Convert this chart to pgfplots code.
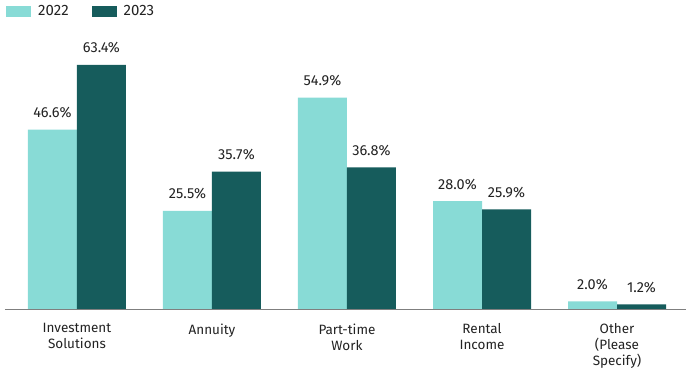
\documentclass[border=0pt]{standalone}
\usepackage{pgfplots}
\pgfplotsset{compat=1.18}
\usepackage{fontspec}
\setmainfont{Fira Sans}
\definecolor{light}{HTML}{88DBD6}
\definecolor{dark}{HTML}{165C5C}
\definecolor{axisgray}{HTML}{7F7F7F}
\definecolor{txt}{HTML}{222222}
\begin{document}
\begin{tikzpicture}
\begin{axis}[
  scale only axis,
  width=681pt, height=269.5pt,
  xmin=-0.533, xmax=4.511,
  ymin=0, ymax=70,
  ybar=0pt, bar width=49pt,
  axis x line*=bottom,
  axis y line=none,
  axis line style={axisgray, line width=0.8pt},
  xtick={0,1,2,3,4},
  xticklabels={Investment\\Solutions, Annuity, Part-time\\Work, Rental\\Income, Other\\(Please\\Specify)},
  xticklabel style={align=center, font=\fontsize{13.5}{16}\selectfont, text=txt, yshift=-11pt},
  major tick length=0pt,
  nodes near coords={\pgfmathprintnumber[fixed,fixed zerofill,precision=1]{\pgfplotspointmeta}\%},
  nodes near coords style={font=\fontsize{14.5}{16}\selectfont, text=txt, anchor=south, yshift=8pt},
  /pgf/number format/assume math mode=true,
  legend columns=2,
  legend style={at={(0,1)}, anchor=west, yshift=28pt, xshift=1pt, draw=none, fill=none,
    font=\fontsize{15}{17}\selectfont, inner sep=0pt, text=txt,
    nodes={inner sep=0pt},
    /tikz/every odd column/.append style={column sep=7pt},
    /tikz/every even column/.append style={column sep=23pt}},
  legend cell align=left,
  clip=false,
]
\addplot[fill=light, draw=none, legend image code/.code={\fill[light] (0pt,-5.5pt) rectangle (25pt,5.5pt);}]
  coordinates {(0,46.6) (1,25.5) (2,54.9) (3,28.0) (4,2.0)};
\addplot[fill=dark, draw=none, legend image code/.code={\fill[dark] (0pt,-5.5pt) rectangle (25pt,5.5pt);}]
  coordinates {(0,63.4) (1,35.7) (2,36.8) (3,25.9) (4,1.2)};
\legend{2022,2023}
\end{axis}
\path (current axis.south west) ++(-5pt,-67pt) coordinate (bl);
\path (current axis.north east) ++(5pt,39.5pt) coordinate (tr);
\useasboundingbox (bl) rectangle (tr);
\end{tikzpicture}
\end{document}
